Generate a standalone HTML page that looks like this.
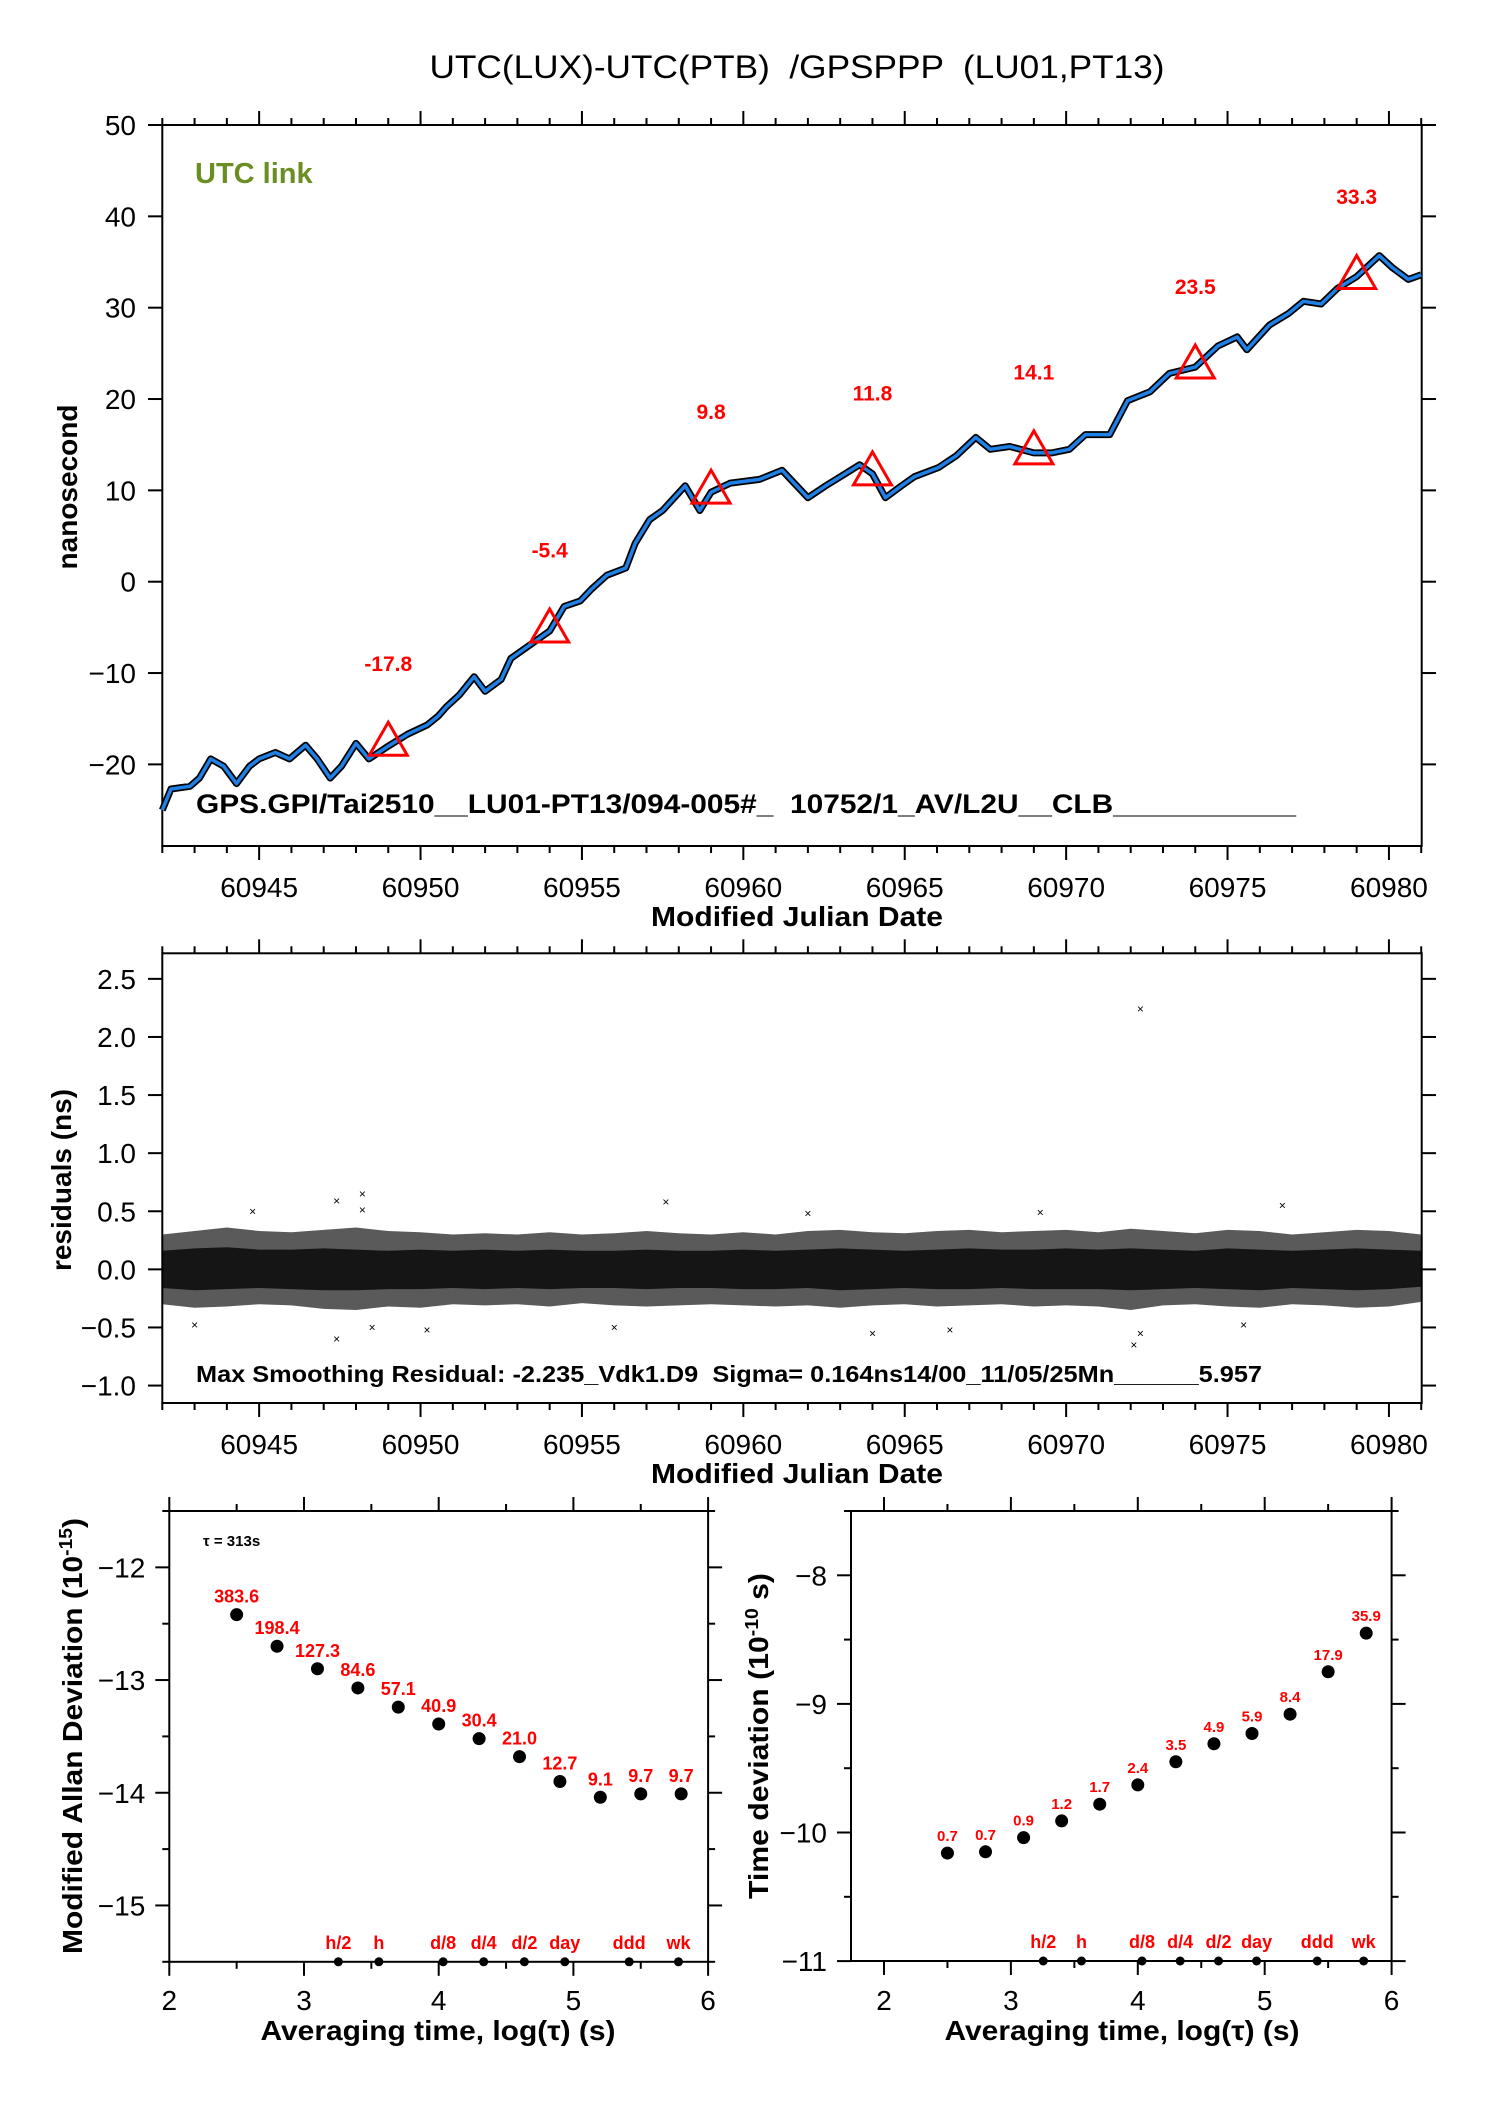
<!DOCTYPE html>
<html><head><meta charset="utf-8"><title>UTC(LUX)-UTC(PTB) GPSPPP</title>
<style>html,body{margin:0;padding:0;background:#fff}svg{display:block}text{font-family:"Liberation Sans",Arial,sans-serif;white-space:pre}</style>
</head><body>
<svg id="fig" width="1488" height="2105" viewBox="0 0 1488 2105" xmlns="http://www.w3.org/2000/svg" xml:space="preserve">
<rect width="1488" height="2105" fill="#fff"/>
<text x="797" y="78" font-size="32" text-anchor="middle" textLength="735" lengthAdjust="spacingAndGlyphs">UTC(LUX)-UTC(PTB)  /GPSPPP  (LU01,PT13)</text>
<g id="top"></g><g id="mid"></g><g id="bl"></g><g id="br"></g>
</svg>
<script>
// ---- top chart data ----
const linkMjd = [60942.0,60942.27,60942.86,60943.15,60943.5,60943.9,60944.3,60944.7,60945.0,60945.5,60945.94,60946.44,60946.8,60947.2,60947.55,60948.0,60948.4,60949.0,60949.6,60950.2,60950.55,60950.8,60951.2,60951.66,60952.0,60952.5,60952.8,60953.36,60954.0,60954.45,60954.95,60955.3,60955.77,60956.36,60956.65,60957.1,60957.5,60958.2,60958.65,60959.0,60959.6,60960.5,60961.2,60962.0,60962.55,60963.15,60963.6,60964.0,60964.4,60964.9,60965.3,60966.05,60966.6,60967.2,60967.65,60968.25,60969.0,60969.55,60970.1,60970.6,60971.35,60971.9,60972.6,60973.2,60974.0,60974.7,60975.3,60975.6,60976.3,60976.9,60977.35,60977.9,60978.4,60979.0,60979.7,60980.1,60980.6,60981.0];
const linkNs = [-25,-22.7,-22.4,-21.5,-19.4,-20.2,-22.1,-20.2,-19.4,-18.7,-19.4,-17.9,-19.4,-21.5,-20.2,-17.7,-19.4,-18.0,-16.7,-15.7,-14.7,-13.7,-12.4,-10.4,-12.0,-10.7,-8.4,-7.0,-5.4,-2.7,-2.1,-0.8,0.7,1.5,4.2,6.8,7.8,10.5,7.8,9.8,10.8,11.2,12.2,9.2,10.5,11.8,12.8,11.8,9.2,10.5,11.5,12.5,13.8,15.8,14.5,14.8,14.1,14.1,14.5,16.1,16.1,19.8,20.8,22.8,23.5,25.8,26.8,25.4,28.1,29.4,30.7,30.4,32.1,33.4,35.7,34.4,33.1,33.6];
const triMjd = [60949,60954,60959,60964,60969,60974,60979];
const triNs = [-17.8,-5.4,9.8,11.8,14.1,23.5,33.3];
const triLabels = ["-17.8","-5.4","9.8","11.8","14.1","23.5","33.3"];
const topYTicks = [50,40,30,20,10,0,-10,-20];
const topYTickLabels = ["50","40","30","20","10","0","\u221210","\u221220"];
const mjdTicks = [60945,60950,60955,60960,60965,60970,60975,60980];
const mjdTickLabels = ["60945","60950","60955","60960","60965","60970","60975","60980"];
// ---- residual data ----
const resDays = [60942,60943,60944,60945,60946,60947,60948,60949,60950,60951,60952,60953,60954,60955,60956,60957,60958,60959,60960,60961,60962,60963,60964,60965,60966,60967,60968,60969,60970,60971,60972,60973,60974,60975,60976,60977,60978,60979,60980,60981];
const resOuterHi = [0.30,0.33,0.36,0.33,0.32,0.34,0.36,0.33,0.32,0.30,0.31,0.30,0.32,0.30,0.31,0.33,0.31,0.30,0.32,0.30,0.33,0.34,0.32,0.31,0.33,0.34,0.32,0.33,0.34,0.32,0.35,0.33,0.31,0.34,0.33,0.30,0.32,0.34,0.33,0.30];
const resOuterLo = [-0.30,-0.33,-0.32,-0.30,-0.31,-0.34,-0.35,-0.32,-0.33,-0.30,-0.31,-0.30,-0.32,-0.29,-0.31,-0.32,-0.31,-0.30,-0.31,-0.32,-0.31,-0.33,-0.31,-0.30,-0.32,-0.31,-0.30,-0.32,-0.31,-0.32,-0.35,-0.31,-0.30,-0.32,-0.33,-0.30,-0.31,-0.33,-0.32,-0.28];
const resInnerHi = [0.16,0.18,0.19,0.17,0.17,0.18,0.17,0.16,0.17,0.16,0.17,0.16,0.17,0.16,0.16,0.17,0.16,0.16,0.17,0.16,0.17,0.18,0.17,0.16,0.17,0.18,0.17,0.17,0.18,0.17,0.18,0.17,0.16,0.18,0.17,0.16,0.17,0.18,0.17,0.16];
const resInnerLo = [-0.16,-0.18,-0.17,-0.16,-0.17,-0.18,-0.18,-0.17,-0.17,-0.16,-0.17,-0.16,-0.17,-0.16,-0.16,-0.17,-0.16,-0.16,-0.17,-0.17,-0.16,-0.18,-0.17,-0.16,-0.17,-0.17,-0.16,-0.17,-0.17,-0.17,-0.18,-0.17,-0.16,-0.17,-0.18,-0.16,-0.17,-0.18,-0.17,-0.15];
const outMjd = [60944.8,60947.4,60948.2,60948.2,60957.6,60972.3,60976.7,60972.1,60972.3,60947.4,60943.0,60948.5,60964.0,60950.2,60975.5,60962.0,60956.0,60969.2,60966.4];
const outRes = [0.50,0.59,0.65,0.51,0.58,2.24,0.55,-0.65,-0.55,-0.60,-0.48,-0.50,-0.55,-0.52,-0.48,0.48,-0.50,0.49,-0.52];
const midYTicks = [2.5,2.0,1.5,1.0,0.5,0.0,-0.5,-1.0];
const midYTickLabels = ["2.5","2.0","1.5","1.0","0.5","0.0","\u22120.5","\u22121.0"];
// ---- Allan deviation data ----
const logTau = [2.5,2.8,3.1,3.4,3.7,4.0,4.3,4.6,4.9,5.2,5.5,5.8];
const madev = [-12.42,-12.70,-12.90,-13.07,-13.24,-13.39,-13.52,-13.68,-13.90,-14.04,-14.01,-14.01];
const madevLabels = ["383.6","198.4","127.3","84.6","57.1","40.9","30.4","21.0","12.7","9.1","9.7","9.7"];
const tdev = [-10.16,-10.15,-10.04,-9.91,-9.78,-9.63,-9.45,-9.31,-9.23,-9.08,-8.75,-8.45];
const tdevLabels = ["0.7","0.7","0.9","1.2","1.7","2.4","3.5","4.9","5.9","8.4","17.9","35.9"];
const markLog = [3.255,3.556,4.033,4.334,4.636,4.936,5.414,5.78];
const markLabels = ["h/2","h","d/8","d/4","d/2","day","ddd","wk"];
const logTicks = [2,3,4,5,6];
const logTickLabels = ["2","3","4","5","6"];
const blYTicks = [-12,-13,-14,-15];
const blYTickLabels = ["\u221212","\u221213","\u221214","\u221215"];
const brYTicks = [-8,-9,-10,-11];
const brYTickLabels = ["\u22128","\u22129","\u221210","\u221211"];

const NS="http://www.w3.org/2000/svg";
function el(parent,tag,attrs,txt){const e=document.createElementNS(NS,tag);for(const k in attrs)e.setAttribute(k,attrs[k]);if(txt!==undefined)e.textContent=txt;parent.appendChild(e);return e;}

const xM = m => 162.3 + (m-60942)*32.28;
const yT = v => 125 + (50-v)*9.134;
const yM = v => 953.3 + (2.72-v)*116.2;
const xL = l => 169.3 + (l-2)*134.7;
const yL = v => 1511 + (-11.5-v)*112.7;
const xR = l => 884 + (l-2)*126.9;
const yR = v => 1511 + (-7.5-v)*128.6;

function frame(g,x0,y0,x1,y1,name){
  const r=el(g,'rect',{x:x0,y:y0,width:x1-x0,height:y1-y0,fill:'none',stroke:'#000','stroke-width':2});
  
  
}
function tick(g,x1,y1,x2,y2){el(g,'line',{x1,y1,x2,y2,stroke:'#000','stroke-width':2});}
function mjdAxis(g,y0,y1,labY,titleY){
  for(let d=60942; d<=60981; d++){
    const x=xM(d), maj=(d%5===0)?14:7;
    tick(g,x,y0,x,y0-maj); tick(g,x,y1,x,y1+maj);
  }
  mjdTicks.forEach((m,i)=>{
    const t=el(g,'text',{x:xM(m),y:labY,'font-size':28,'text-anchor':'middle'},mjdTickLabels[i]);
    
    
  });
  const tt=el(g,'text',{x:797,y:titleY,'font-size':28,'font-weight':'bold','text-anchor':'middle',textLength:292,lengthAdjust:'spacingAndGlyphs'},'Modified Julian Date');
  
  
}

// ---------- TOP ----------
const gt=document.getElementById('top');
frame(gt,162.3,125,1421.7,846,'top-plot-frame');
mjdAxis(gt,125,846,897,926);
topYTicks.forEach((v,i)=>{
  tick(gt,162.3,yT(v),148,yT(v)); tick(gt,1421.7,yT(v),1436,yT(v));
  const t=el(gt,'text',{x:136,y:yT(v)+10,'font-size':28,'text-anchor':'end'},topYTickLabels[i]);
  
  
});
let yl=el(gt,'text',{x:0,y:0,'font-size':28,'font-weight':'bold','text-anchor':'middle',transform:'translate(77,487) rotate(-90)'},'nanosecond');


let ul=el(gt,'text',{x:195,y:183,'font-size':29,'font-weight':'bold',fill:'#6b8e23'},'UTC link');


const pts=linkMjd.map((m,i)=>xM(m).toFixed(1)+','+yT(linkNs[i]).toFixed(1)).join(' ');
let noise=el(gt,'polyline',{points:pts,fill:'none',stroke:'#000','stroke-width':7,'stroke-linejoin':'round'});


let sm=el(gt,'polyline',{points:pts,fill:'none',stroke:'#1f80e6','stroke-width':3.5,'stroke-linejoin':'round'});


triMjd.forEach((m,i)=>{
  const cx=xM(m), cy=yT(triNs[i]);
  const p=el(gt,'polygon',{points:`${cx},${cy-22} ${cx-19},${cy+11} ${cx+19},${cy+11}`,fill:'none',stroke:'#f00','stroke-width':3});
  
  
  const t=el(gt,'text',{x:cx,y:yT(triNs[i]+8.9)+8,'font-size':21,'font-weight':'bold',fill:'#f00','text-anchor':'middle'},triLabels[i]);
  
  
});
let gl=el(gt,'text',{x:196,y:813,'font-size':27,'font-weight':'bold',textLength:1100,lengthAdjust:'spacingAndGlyphs'},'GPS.GPI/Tai2510__LU01-PT13/094-005#_  10752/1_AV/L2U__CLB___________');



// ---------- MIDDLE ----------
const gm=document.getElementById('mid');
function band(hi,lo,fill,name){
  const up=resDays.map((d,i)=>xM(d).toFixed(1)+','+yM(hi[i]).toFixed(1));
  const dn=resDays.map((d,i)=>xM(d).toFixed(1)+','+yM(lo[i]).toFixed(1)).reverse();
  const p=el(gm,'polygon',{points:up.concat(dn).join(' '),fill:fill});
  
  
}
band(resOuterHi,resOuterLo,'#5a5a5a','residual-outer-cloud');
band(resInnerHi,resInnerLo,'#151515','residual-core-cloud');
outMjd.forEach((m,i)=>{
  const x=xM(m), y=yM(outRes[i]);
  const t=el(gm,'text',{x:x,y:y+4,'font-size':12,'text-anchor':'middle'},'\u00d7');
  
  
});
frame(gm,162.3,953.3,1421.7,1403,'residual-plot-frame');
mjdAxis(gm,953.3,1403,1454,1483);
midYTicks.forEach((v,i)=>{
  tick(gm,162.3,yM(v),148,yM(v)); tick(gm,1421.7,yM(v),1436,yM(v));
  const t=el(gm,'text',{x:136,y:yM(v)+10,'font-size':28,'text-anchor':'end'},midYTickLabels[i]);
  
  
});
yl=el(gm,'text',{x:0,y:0,'font-size':28,'font-weight':'bold','text-anchor':'middle',transform:'translate(71,1180) rotate(-90)'},'residuals (ns)');


let mt=el(gm,'text',{x:196,y:1382,'font-size':23,'font-weight':'bold',textLength:1066,lengthAdjust:'spacingAndGlyphs'},'Max Smoothing Residual: -2.235_Vdk1.D9  Sigma= 0.164ns14/00_11/05/25Mn______5.957');



// ---------- BOTTOM PLOTS ----------
function stabPlot(g,xs,ys,x0,x1,y0,y1,xmin,yTicks,yLabels,ymin,ymax,vals,labels,lblSize,titleX,ytitle,ytx,ytlen,name){
  frame(g,x0,y0,x1,y1,name+'-frame');
  for(let l=2; l<=6.001; l+=0.5){
    const x=xs(l), maj=(Math.abs(l-Math.round(l))<1e-6)?14:7;
    tick(g,x,y0,x,y0-maj); tick(g,x,y1,x,y1+maj);
  }
  logTicks.forEach((l,i)=>{
    const t=el(g,'text',{x:xs(l),y:2010,'font-size':28,'text-anchor':'middle'},logTickLabels[i]);
    
    
  });
  for(let v=Math.ceil(ymin*2)/2; v<=ymax+1e-6; v+=0.5){
    const y=ys(v), maj=(Math.abs(v-Math.round(v))<1e-6)?14:7;
    tick(g,x0,y,x0-maj,y); tick(g,x1,y,x1+maj,y);
  }
  yTicks.forEach((v,i)=>{
    const t=el(g,'text',{x:x0-24,y:ys(v)+10,'font-size':28,'text-anchor':'end'},yLabels[i]);
    
    
  });
  const tt=el(g,'text',{x:titleX,y:2040,'font-size':28,'font-weight':'bold','text-anchor':'middle',textLength:355,lengthAdjust:'spacingAndGlyphs'},'Averaging time, log(\u03c4) (s)');
  
  
  const yt=el(g,'text',{x:0,y:0,'font-size':28,'font-weight':'bold','text-anchor':'middle',textLength:ytlen,lengthAdjust:'spacingAndGlyphs',transform:`translate(${ytx},1736) rotate(-90)`});
  yt.innerHTML=ytitle;
  
  
  logTau.forEach((l,i)=>{
    const c=el(g,'circle',{cx:xs(l),cy:ys(vals[i]),r:6.5,fill:'#000'});
    
    
    const t=el(g,'text',{x:xs(l),y:ys(vals[i])-12,'font-size':lblSize,'font-weight':'bold',fill:'#f00','text-anchor':'middle'},labels[i]);
    
    
  });
  markLog.forEach((l,i)=>{
    const c=el(g,'circle',{cx:xs(l),cy:y1,r:4.5,fill:'#000'});
    
    
    const t=el(g,'text',{x:xs(l),y:y1-13,'font-size':18,'font-weight':'bold',fill:'#f00','text-anchor':'middle'},markLabels[i]);
    
    
  });
}
const gbl=document.getElementById('bl');
stabPlot(gbl,xL,yL,169.3,708.1,1511,1961.8,2,blYTicks,blYTickLabels,-15.5,-11.5,madev,madevLabels,18,438,
 'Modified Allan Deviation (10<tspan dy="-10" font-size="18">-15</tspan><tspan dy="10">)</tspan>',82,436,'mdev-plot');
let tau=el(gbl,'text',{x:203,y:1546,'font-size':15,'font-weight':'bold'},'\u03c4 = 313s');


const gbr=document.getElementById('br');
stabPlot(gbr,xR,yR,851,1391.6,1511,1961,1.74,brYTicks,brYTickLabels,-11,-7.5,tdev,tdevLabels,15,1122,
 'Time deviation (10<tspan dy="-10" font-size="18">-10</tspan><tspan dy="10"> s)</tspan>',768,326,'tdev-plot');
</script>
</body></html>
